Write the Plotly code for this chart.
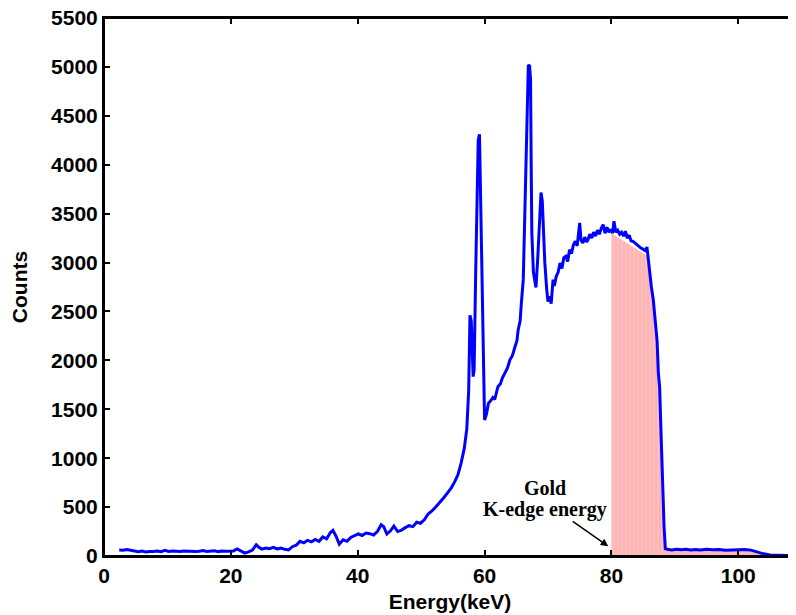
import plotly.graph_objects as go

# ---- spectrum data ----
energy = [
    2.4, 3.0, 3.6, 4.2, 4.8, 5.4, 6.0, 6.6, 7.2, 7.8, 8.4, 9.0, 9.6, 10.2, 10.8,
    11.4, 12.0, 12.6, 13.2, 13.8, 14.4, 15.0, 15.6, 16.2, 16.8, 17.4, 18.0, 18.6,
    19.2, 19.8,
    20.4, 21.0, 21.6, 22.2, 22.8, 23.4, 24.0, 24.4, 24.9, 25.5, 26.1, 26.7, 27.3,
    27.9, 28.5, 29.1, 29.7, 30.3, 30.9, 31.5, 32.1, 32.7, 33.3, 33.9, 34.5, 35.1,
    35.7, 36.1, 36.6, 37.1, 37.7, 38.3, 38.9, 39.5, 40.1, 40.7, 41.3, 41.9, 42.5,
    43.1, 43.7, 44.1, 44.6, 45.2, 45.7, 46.3, 46.9, 47.5, 48.1, 48.7, 49.3, 49.9,
    50.5, 51.1, 51.7, 52.3, 52.9, 53.5, 54.1, 54.7, 55.3, 55.8, 56.3, 56.8, 57.2,
    57.5,
    57.7, 57.9, 58.2, 58.35, 58.6, 58.85, 59.0, 59.2, 59.4, 59.6, 59.8, 60.0,
    60.3, 60.6, 61.0, 61.3, 61.6, 62.1, 62.5, 62.8, 63.2, 63.6, 64.0, 64.4, 64.8,
    65.1, 65.3, 65.6, 65.8, 66.1, 66.4, 66.7, 66.9, 67.1, 67.25, 67.35, 67.45,
    67.7, 67.9, 68.1, 68.4, 68.7, 68.9, 69.1, 69.3, 69.5, 69.8, 70.0, 70.3, 70.5,
    70.8, 71.0, 71.3, 71.6, 71.9, 72.2, 72.5, 72.8, 73.1, 73.4, 73.7, 74.0, 74.3,
    74.6, 75.0, 75.2, 75.5, 75.8, 76.1, 76.3, 76.6, 76.9, 77.2, 77.5, 77.8, 78.1,
    78.4, 78.7, 79.0, 79.3, 79.6, 79.9, 80.2, 80.4, 80.7, 81.0, 81.3, 81.6, 81.9,
    82.2, 82.5, 82.8, 83.1, 83.4, 83.7, 84.0, 84.3, 84.6, 84.9, 85.2, 85.4, 85.6,
    85.8, 86.0, 86.3, 86.6, 86.9, 87.2, 87.4, 87.6, 87.8, 88.0, 88.3, 88.5,
    88.8, 89.5, 90.3, 91.0, 91.8, 92.5, 93.3, 94.0, 95.0, 96.0, 97.0, 98.0, 99.0,
    100.0, 101.0, 102.0, 103.0, 104.0, 105.0, 106.0, 107.0, 108.0, 109.1,
]
counts = [
    62, 60, 66, 58, 48, 44, 50, 42, 47, 45, 52, 44, 58, 46, 50,
    48, 47, 52, 49, 50, 46, 48, 55, 47, 50, 53, 45, 52,
    48, 50,
    52, 72, 50, 30, 42, 60, 115, 90, 70, 82, 75, 88, 72,
    80, 68, 62, 95, 110, 150, 135, 160, 145, 170, 150, 195, 175,
    240, 262, 200, 120, 165, 150, 190, 205, 225, 210, 235, 228, 215,
    250, 320, 300, 225, 260, 305, 250, 265, 290, 310, 300, 345, 335,
    370, 430, 460, 500, 540, 590, 640, 690, 760, 830, 950, 1100, 1300,
    1700,
    2460, 2400, 1834, 1900, 2900, 3900, 4250, 4310, 3600, 2500, 1770, 1390,
    1450, 1560, 1590, 1620, 1600, 1730, 1760, 1820, 1870, 1920, 2005, 2050, 2140,
    2200, 2313, 2400, 2586, 2825, 3645, 4500, 5020, 5010, 4870, 4000, 3306,
    2900, 2793, 2746, 3064, 3500, 3716, 3627, 3300, 2999, 2722, 2602, 2654, 2580,
    2825, 2760, 2859, 2900, 2996, 2940, 3050, 3064, 3010, 3132, 3090, 3180, 3217,
    3170, 3405, 3230, 3200, 3260, 3210, 3235, 3290, 3250, 3310, 3270, 3330, 3290,
    3350, 3388, 3300, 3360, 3310, 3340, 3300, 3422, 3310, 3330, 3290, 3310, 3270,
    3320, 3250, 3280, 3220, 3217, 3200, 3180, 3166, 3150, 3140, 3130, 3120, 3160,
    3047, 2876, 2750, 2620, 2400, 2200, 1870, 1732, 1300, 800, 300, 75,
    68, 62, 70, 64, 68, 62, 66, 61, 68, 63, 67, 60, 64,
    62, 66, 60, 40, 22, 10, 6, 5, 5, 5,
]

# shaded region above the gold K-edge (80 keV onwards)
fill_energy = [80.0, 85.6, 86.0, 86.3, 86.6, 86.9, 87.2, 87.4, 87.6, 87.8, 88.0,
               88.3, 88.5, 88.8, 89.5, 90.3, 91.0, 91.8, 92.5, 93.3, 94.0, 95.0,
               96.0, 97.0, 98.0, 99.0, 100.0, 101.0, 102.0, 103.0, 104.0, 105.0,
               106.0, 107.0, 108.0, 109.1]
fill_counts = [3300, 3070, 2860, 2740, 2600, 2380, 2180, 1850, 1710, 1280, 780,
               280, 70, 64, 58, 66, 60, 64, 58, 62, 57, 64, 59, 63, 56, 60, 58,
               62, 56, 36, 18, 8, 4, 3, 3, 3]

x_ticks = [0, 20, 40, 60, 80, 100]
y_ticks = [0, 500, 1000, 1500, 2000, 2500, 3000, 3500, 4000, 4500, 5000, 5500]

fig = go.Figure()
fig.add_trace(go.Scatter(
    x=fill_energy, y=fill_counts, mode="lines", line=dict(width=0, color="rgba(0,0,0,0)"),
    fill="tozeroy", fillcolor="#ffb8b8",
    fillpattern=dict(shape="|", fgcolor="#ffd2d2", bgcolor="#ffb2b2", size=4, solidity=0.4),
    showlegend=False, hoverinfo="skip"))
fig.add_trace(go.Scatter(
    x=energy, y=counts, mode="lines", line=dict(color="#0000ff", width=3),
    showlegend=False))

tickfont = dict(family="Liberation Sans, Arial", size=21, color="black", weight="bold")
titlefont = dict(family="Liberation Sans, Arial", size=21, color="black", weight="bold")
fig.update_layout(
    width=796, height=615,
    margin=dict(l=96, r=8, t=10, b=67, autoexpand=False),
    paper_bgcolor="white", plot_bgcolor="white",
    font=dict(family="Liberation Sans, Arial", color="black"),
    xaxis=dict(range=[0, 109.1], tickvals=x_ticks, ticks="inside", ticklen=6,
               tickwidth=2, tickcolor="black", showline=True, linecolor="black",
               linewidth=2, mirror="ticks", showgrid=False, zeroline=False,
               tickfont=tickfont, automargin=False, ticklabeloverflow="allow",
               title=dict(text="Energy(keV)", font=titlefont, standoff=8)),
    yaxis=dict(range=[0, 5500], tickvals=y_ticks, ticks="inside", ticklen=6,
               tickwidth=2, tickcolor="black", showline=True, linecolor="black",
               linewidth=2, mirror="ticks", showgrid=False, zeroline=False,
               tickfont=tickfont, automargin=False, ticklabeloverflow="allow",
               title=dict(text="Counts", font=titlefont, standoff=18)),
)
# axes box (MATLAB-style frame)
fig.add_shape(type="rect", xref="paper", yref="paper", x0=0, x1=1, y0=0, y1=1,
              line=dict(color="black", width=2), fillcolor="rgba(0,0,0,0)",
              layer="above")

serif = dict(family="Liberation Serif, Times New Roman", size=20, color="black",
             weight="bold")
fig.add_annotation(x=69.6, y=700, text="Gold", showarrow=False, font=serif)
fig.add_annotation(x=69.6, y=478, text="K-edge energy", showarrow=False, font=serif)
fig.add_annotation(x=79.5, y=100, ax=-37, ay=-26, text="", showarrow=True,
                   arrowhead=2, arrowsize=1, arrowwidth=1.5, arrowcolor="black")

fig.write_html("out.html")
